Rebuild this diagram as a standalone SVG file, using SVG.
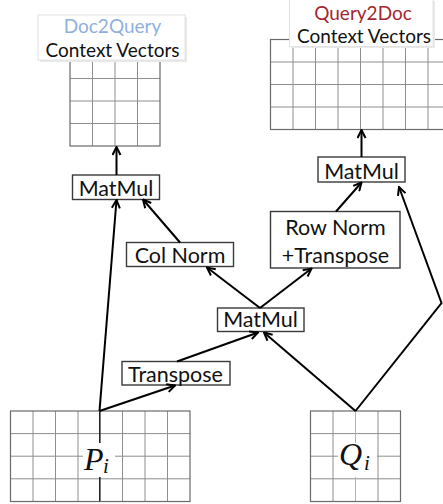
<svg xmlns="http://www.w3.org/2000/svg" width="443" height="504" viewBox="0 0 443 504">
<style>
.bg{fill:#fff}
.gl{stroke:#8e8e8e;stroke-width:1;fill:none}
.gb{stroke:#6a6a6a;stroke-width:1.2;fill:none}
.box{fill:#fff;stroke:#3a3a3a;stroke-width:1.4}
.lbl{fill:#fff;stroke:#e2e2e2;stroke-width:1}
.shd{fill:#e9e9e9}
.t{font-family:Lato,"Open Sans","Liberation Sans",sans-serif;font-size:21.5px;fill:#111;text-anchor:middle}
.l{font-family:Lato,"Open Sans","Liberation Sans",sans-serif;font-size:19px;fill:#111;text-anchor:middle}
.m{font-family:"Liberation Serif","DejaVu Serif",serif;font-style:italic;fill:#111}
.c{stroke:#000;stroke-width:2;fill:none;marker-end:url(#ah)}
</style>
<defs>
<marker id="ah" viewBox="0 0 10 10" refX="9" refY="5" markerWidth="10" markerHeight="10" markerUnits="userSpaceOnUse" orient="auto">
<path d="M1,1 L9,5 L1,9" fill="none" stroke="#000" stroke-width="2"/>
</marker>
</defs>
<rect width="443" height="504" class="bg"/>

<g id="doc2query-grid">
<path class="gl" d="M92.5,56V146M115,56V146M137.5,56V146M70,78.5H160M70,101H160M70,123.5H160"/>
<rect class="gb" x="70" y="56" width="90" height="90"/>
</g>
<g id="doc2query-label">
<rect class="shd" x="40" y="17" width="147" height="45"/>
<rect class="lbl" x="38" y="15" width="147" height="45"/>
<text class="l" x="112.5" y="33" style="fill:#8fb0de">Doc2Query</text>
<text class="l" x="112.5" y="57">Context Vectors</text>
</g>

<g id="query2doc-grid">
<path class="gl" d="M293,39.5V129.5M315.5,39.5V129.5M338,39.5V129.5M360.5,39.5V129.5M383,39.5V129.5M405.5,39.5V129.5M428,39.5V129.5M270.5,62H450M270.5,84.5H450M270.5,107H450"/>
<rect class="gb" x="270.5" y="39.5" width="180" height="90"/>
</g>
<g id="query2doc-label">
<rect class="shd" x="291" y="1" width="144" height="47"/>
<rect class="lbl" x="289.5" y="-1" width="143.5" height="47.5"/>
<text class="l" x="363" y="20" style="fill:#a3262e">Query2Doc</text>
<text class="l" x="364" y="43">Context Vectors</text>
</g>

<g id="p-grid">
<path class="gl" d="M33,411V501.5M55.5,411V501.5M78,411V501.5M122.5,411V501.5M145,411V501.5M167.5,411V501.5M10.5,433.6H190M10.5,456.2H190M10.5,478.8H190"/>
<path stroke="#222" stroke-width="1.6" d="M99.8,411V501.5"/>
<rect class="gb" x="10.5" y="411" width="179.5" height="90.5"/>
<rect class="bg" x="83" y="443" width="32" height="34"/>
<text class="m" x="84" y="470" font-size="32">P</text>
<text class="m" x="103" y="473" font-size="21">i</text>
</g>

<g id="q-grid">
<path class="gl" d="M333,411V501.5M378,411V501.5M310.5,433.6H400.5M310.5,456.2H400.5M310.5,478.8H400.5"/>
<path stroke="#b4b4b4" stroke-width="1" d="M355.5,411V501.5"/>
<rect class="gb" x="310.5" y="411" width="90" height="90.5"/>
<rect class="bg" x="338" y="443" width="39" height="34"/>
<text class="m" x="339" y="465" font-size="32">Q</text>
<text class="m" x="364" y="470" font-size="21">i</text>
</g>

<g id="matmul-left">
<rect class="box" x="72.5" y="175" width="87" height="24.5"/>
<text class="t" x="116" y="196">MatMul</text>
</g>
<g id="matmul-right">
<rect class="box" x="318" y="157" width="87" height="25"/>
<text class="t" x="361.5" y="179">MatMul</text>
</g>
<g id="colnorm">
<rect class="box" x="126.5" y="242.5" width="107" height="24"/>
<text class="t" x="180" y="263">Col Norm</text>
</g>
<g id="rownorm">
<rect class="box" x="270.5" y="211.5" width="129.5" height="56.5"/>
<text class="t" x="335.5" y="235">Row Norm</text>
<text class="t" x="335.5" y="262.5">+Transpose</text>
</g>
<g id="matmul-mid">
<rect class="box" x="217.5" y="308" width="86.5" height="23.5"/>
<text class="t" x="260.5" y="327">MatMul</text>
</g>
<g id="transpose">
<rect class="box" x="122" y="361.5" width="108" height="23.5"/>
<text class="t" x="175.5" y="381.5">Transpose</text>
</g>

<g id="connectors">
<path class="c" d="M116.5,175V147"/>
<path class="c" d="M180,242.5L143,199.5"/>
<path class="c" d="M99.5,411L116.5,200"/>
<path class="c" d="M99.5,411L175,385.5"/>
<path class="c" d="M177,361.5L258,332.5"/>
<path class="c" d="M355.5,411L264,332.5"/>
<path class="c" d="M260,308L207,267.5"/>
<path class="c" d="M260,308L311.5,268.5"/>
<path class="c" d="M336,211.5L361.5,182.5"/>
<path class="c" d="M355.5,411L441.5,303L399,187"/>
<path class="c" d="M361.5,157V130"/>
</g>
</svg>
